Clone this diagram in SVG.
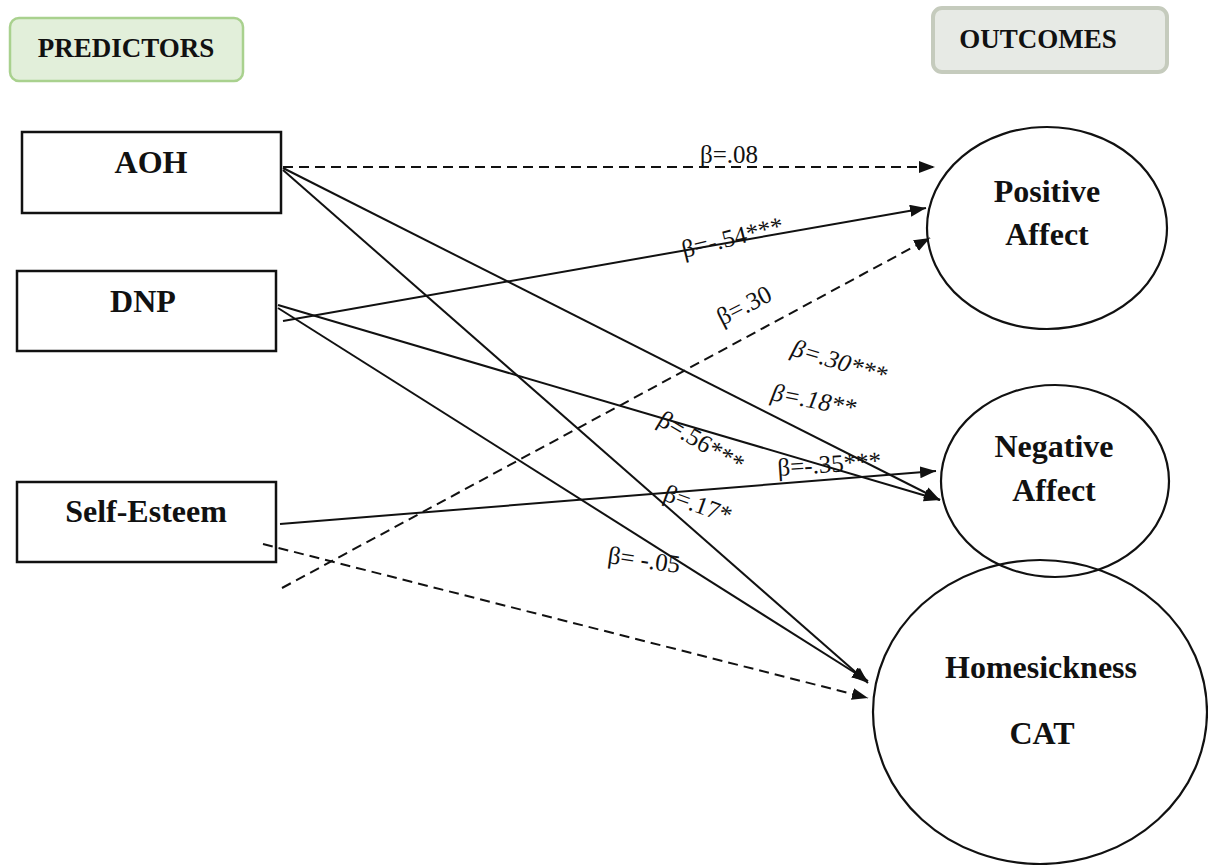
<svg xmlns="http://www.w3.org/2000/svg" width="1208" height="865" viewBox="0 0 1208 865">
<style>
.hdr{font-family:"Liberation Serif","Times New Roman",serif;font-weight:bold;font-size:27px;fill:#111;text-anchor:middle}
.nt{font-family:"Liberation Serif","Times New Roman",serif;font-weight:bold;font-size:32px;fill:#111;text-anchor:middle}
.box{fill:#fff;stroke:#111;stroke-width:2.5}
.ell{fill:none;stroke:#111;stroke-width:2.2}
.ln{stroke:#111;stroke-width:2;fill:none;marker-end:url(#ah)}
.ds{stroke-dasharray:10,6}
.lb{font-family:"Liberation Serif","Times New Roman",serif;font-size:25px;fill:#111}
.it{font-style:italic}
</style>
<defs>
<marker id="ah" markerUnits="userSpaceOnUse" markerWidth="18" markerHeight="14" refX="16" refY="6" orient="auto">
<path d="M0,0 L16,6 L0,12 z" fill="#111"/>
</marker>
</defs>
<rect width="1208" height="865" fill="#fff"/>
<g id="predictors">
<rect x="10" y="18" width="233" height="63" rx="9" fill="#e2efda" stroke="#a9d18e" stroke-width="2.5"/>
<text class="hdr" x="126" y="57">PREDICTORS</text>
</g>
<g id="outcomes">
<rect x="933" y="8" width="234" height="64" rx="9" fill="#e7eae5" stroke="#c5cbbd" stroke-width="4"/>
<text class="hdr" x="1038" y="48">OUTCOMES</text>
</g>
<g id="aoh">
<rect class="box" x="22" y="132" width="259" height="81"/>
<text class="nt" x="151" y="173">AOH</text>
</g>
<g id="dnp">
<rect class="box" x="17" y="271" width="259" height="80"/>
<text class="nt" x="143" y="312">DNP</text>
</g>
<g id="self-esteem">
<rect class="box" x="17" y="482" width="259" height="80"/>
<text class="nt" x="146" y="522">Self-Esteem</text>
</g>
<g id="positive-affect">
<ellipse class="ell" cx="1047" cy="228" rx="120" ry="101"/>
<text class="nt" x="1047" y="202">Positive</text>
<text class="nt" x="1047" y="245">Affect</text>
</g>
<g id="negative-affect">
<ellipse class="ell" cx="1055" cy="481" rx="114" ry="96"/>
<text class="nt" x="1054" y="457">Negative</text>
<text class="nt" x="1054" y="501">Affect</text>
</g>
<g id="homesickness">
<ellipse class="ell" cx="1040" cy="712" rx="167" ry="152"/>
<text class="nt" x="1041" y="678">Homesickness</text>
<text class="nt" x="1042" y="744">CAT</text>
</g>
<g id="connectors">
<line class="ln ds" x1="283" y1="167" x2="935" y2="167"/>
<line class="ln" x1="283" y1="321" x2="926" y2="208"/>
<line class="ln ds" x1="282" y1="588" x2="930" y2="238"/>
<line class="ln" x1="283" y1="168" x2="940" y2="500"/>
<line class="ln" x1="278" y1="305" x2="940" y2="500"/>
<line class="ln" x1="280" y1="524" x2="936" y2="471"/>
<line class="ln" x1="283" y1="170" x2="868" y2="683"/>
<line class="ln" x1="278" y1="308" x2="868" y2="681"/>
<line class="ln ds" x1="263" y1="544" x2="868" y2="698"/>
</g>
<g id="labels">
<text class="lb" x="700" y="163">β=.08</text>
<text class="lb" transform="translate(684,258) rotate(-14)">β=-.54***</text>
<text class="lb" transform="translate(722,326) rotate(-27)">β=.30</text>
<text class="lb it" transform="translate(790,355) rotate(17)">β=.30***</text>
<text class="lb it" transform="translate(770,400) rotate(11)">β=.18**</text>
<text class="lb" transform="translate(656,424) rotate(31)">β=.56***</text>
<text class="lb" transform="translate(778,476) rotate(-4)">β=-.35***</text>
<text class="lb" transform="translate(662,500) rotate(20)">β=.17*</text>
<text class="lb" transform="translate(607,563) rotate(8)">β= -.05</text>
</g>
</svg>
